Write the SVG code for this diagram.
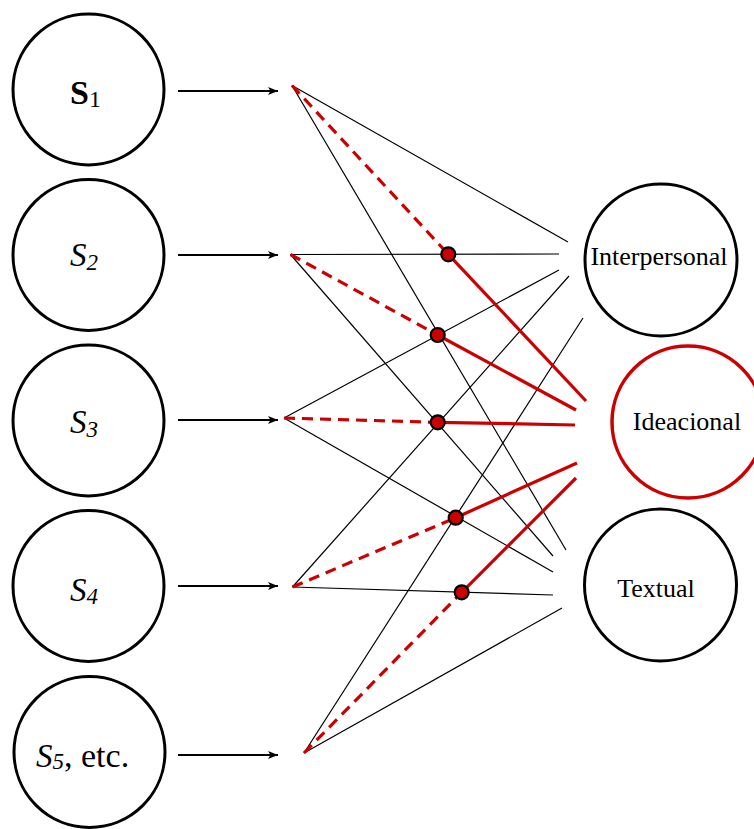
<svg xmlns="http://www.w3.org/2000/svg" width="754" height="829" viewBox="0 0 754 829">
  <style>
    .node { fill: #ffffff; stroke: #000000; stroke-width: 3; }
    .node-red { fill: #ffffff; stroke: #cc0000; stroke-width: 3.5; }
    .lbl { font-family: "Liberation Serif", "Times New Roman", serif; fill: #000000; }
    .s { font-size: 33px; font-style: italic; }
    .sub { font-size: 23px; }
    .fn { font-size: 26px; text-anchor: middle; }
    .arrow { stroke: #000000; stroke-width: 2; fill: none; }
    .thin { stroke: #000000; stroke-width: 1.2; fill: none; }
    .dash { stroke: #cc0000; stroke-width: 3.2; stroke-dasharray: 11 7; fill: none; }
    .solid { stroke: #cc0000; stroke-width: 3.2; fill: none; }
    .dot { fill: #cc0000; stroke: #000000; stroke-width: 2.2; }
  </style>
  <defs>
    <marker id="head" markerUnits="userSpaceOnUse" markerWidth="12" markerHeight="10" refX="10" refY="4" orient="auto">
      <path d="M0,0 L10,4 L0,8 L2.5,4 Z" fill="#000000"/>
    </marker>
  </defs>

  <!-- source nodes -->
  <g id="s1">
    <circle class="node" cx="88.5" cy="89.5" r="75.5"/>
    <text class="lbl" x="70" y="103.5" font-size="34" font-weight="bold">S<tspan font-size="24" font-weight="normal" dy="3.5">1</tspan></text>
  </g>
  <g id="s2">
    <circle class="node" cx="88.5" cy="255" r="75.5"/>
    <text class="lbl s" x="70" y="265.5">S<tspan class="sub" dy="4.5">2</tspan></text>
  </g>
  <g id="s3">
    <circle class="node" cx="88.5" cy="420.5" r="75.5"/>
    <text class="lbl s" x="70" y="433">S<tspan class="sub" dy="4">3</tspan></text>
  </g>
  <g id="s4">
    <circle class="node" cx="88.5" cy="586" r="75.5"/>
    <text class="lbl s" x="70" y="600.5">S<tspan class="sub" dy="3">4</tspan></text>
  </g>
  <g id="s5">
    <circle class="node" cx="89.5" cy="752" r="75.5"/>
    <text class="lbl s" x="36" y="767">S<tspan class="sub" font-size="24" dy="1.5">5</tspan><tspan font-style="normal" font-size="34" dy="-1.5">, etc.</tspan></text>
  </g>

  <!-- function nodes -->
  <g id="interpersonal">
    <circle class="node" cx="661" cy="260" r="76"/>
    <text class="lbl fn" x="659" y="265">Interpersonal</text>
  </g>
  <g id="ideacional">
    <circle class="node-red" cx="688" cy="422" r="76"/>
    <text class="lbl fn" x="687" y="430">Ideacional</text>
  </g>
  <g id="textual">
    <circle class="node" cx="660.5" cy="585" r="76"/>
    <text class="lbl fn" x="656" y="597" font-size="25">Textual</text>
  </g>

  <g id="connectors">
    <!-- input arrows -->
    <line class="arrow" x1="178" y1="91" x2="278" y2="91" marker-end="url(#head)"/>
    <line class="arrow" x1="178" y1="255" x2="278" y2="255" marker-end="url(#head)"/>
    <line class="arrow" x1="178" y1="420" x2="278" y2="420" marker-end="url(#head)"/>
    <line class="arrow" x1="178" y1="586" x2="278" y2="586" marker-end="url(#head)"/>
    <line class="arrow" x1="178" y1="755" x2="278" y2="755" marker-end="url(#head)"/>

    <!-- black links to Interpersonal and Textual -->
    <line class="thin" x1="292" y1="85.5" x2="568" y2="242"/>
    <line class="thin" x1="292" y1="85.5" x2="566" y2="550"/>
    <line class="thin" x1="290.5" y1="254.5" x2="559" y2="254"/>
    <line class="thin" x1="290.5" y1="254.5" x2="553" y2="556"/>
    <line class="thin" x1="284" y1="418" x2="559" y2="270"/>
    <line class="thin" x1="284" y1="418" x2="553" y2="572"/>
    <line class="thin" x1="292.5" y1="587" x2="569" y2="276"/>
    <line class="thin" x1="292.5" y1="587" x2="553" y2="595"/>
    <line class="thin" x1="304" y1="753" x2="583" y2="318"/>
    <line class="thin" x1="304" y1="753" x2="562" y2="608"/>

    <!-- red paths to Ideacional -->
    <line class="dash" x1="292" y1="85.5" x2="448.3" y2="254.3"/>
    <line class="dash" x1="290.5" y1="254.5" x2="437.7" y2="335"/>
    <line class="dash" x1="284" y1="418" x2="437.7" y2="422.3"/>
    <line class="dash" x1="292.5" y1="587" x2="455.7" y2="517.7"/>
    <line class="dash" x1="304" y1="753" x2="461.7" y2="592.3"/>

    <line class="solid" x1="448.3" y1="254.3" x2="586" y2="401"/>
    <line class="solid" x1="437.7" y1="335" x2="576" y2="410"/>
    <line class="solid" x1="437.7" y1="422.3" x2="575" y2="425"/>
    <line class="solid" x1="455.7" y1="517.7" x2="577" y2="463"/>
    <line class="solid" x1="461.7" y1="592.3" x2="576" y2="478"/>
  </g>

  <g id="junctions">
    <circle class="dot" cx="448.3" cy="254.3" r="7"/>
    <circle class="dot" cx="437.7" cy="335" r="7"/>
    <circle class="dot" cx="437.7" cy="422.3" r="7"/>
    <circle class="dot" cx="455.7" cy="517.7" r="7"/>
    <circle class="dot" cx="461.7" cy="592.3" r="7"/>
  </g>
</svg>
